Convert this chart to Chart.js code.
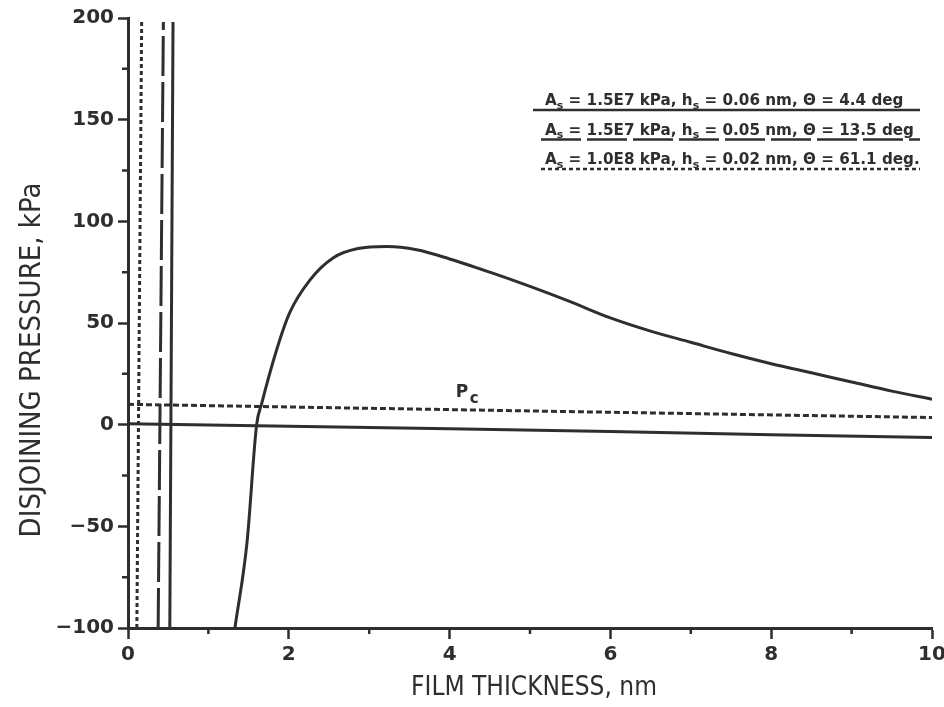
<!DOCTYPE html>
<html lang="en">
<head>
    <meta charset="UTF-8">
    <title>Disjoining pressure</title>
    <script src="https://cdn.jsdelivr.net/npm/chart.js"></script>
    <style>
        body { margin: 0; background: #fff; }
        #wrap { width: 944px; height: 707px; }
    </style>
</head>
<body>
    <div id="wrap"><canvas id="dpChart" width="944" height="707"></canvas></div>
    <script>
        // values
        const legendLabels = [
            'A_s = 1.5E7 kPa, h_s = 0.06 nm, Θ = 4.4 deg',
            'A_s = 1.5E7 kPa, h_s = 0.05 nm, Θ = 13.5 deg',
            'A_s = 1.0E8 kPa, h_s = 0.02 nm, Θ = 61.1 deg.'
        ];
        const wallPressure = [-100, 198];
        const solidWallX = [0.52, 0.56];
        const dashedWallX = [0.375, 0.44];
        const dottedWallX = [0.11, 0.17];

        const humpX = [1.33, 1.48, 1.60, 1.66, 1.85, 2.01, 2.26, 2.55, 2.86, 3.22, 3.59, 4.0, 4.5, 5.0, 5.5, 6.0, 6.5, 7.0, 7.5, 8.0, 8.5, 9.0, 9.5, 10];
        const humpY = [-100, -58, 0, 10, 37, 55, 71, 82, 86.6, 87.6, 86, 81.5, 75, 68, 60.5, 52.5, 46, 40.5, 35, 30, 25.5, 21, 16.5, 12.5];

        const tailX = [0, 2, 4, 6, 8, 10];
        const tailY = [0.5, -0.8, -2.0, -3.4, -4.9, -6.3];

        const pcX = [0, 10];
        const pcY = [10, 3.5];

        const minorTicksX = [1, 3, 5, 7, 9];
        const minorTicksY = [-75, -25, 25, 75, 125, 175];

        const ink = '#2e2e2e';
        const pts = (xs, ys) => xs.map((v, i) => ({ x: v, y: ys[i] }));

        function drawRich(ctx, str, x, yb, size) {
            str.split(/(_.)/).forEach(p => {
                if (!p) return;
                if (p[0] === '_') {
                    ctx.font = 'bold ' + Math.round(size * 0.7) + 'px "DejaVu Sans"';
                    ctx.fillText(p[1], x, yb + size * 0.25);
                    x += ctx.measureText(p[1]).width;
                } else {
                    ctx.font = 'bold ' + size + 'px "DejaVu Sans"';
                    ctx.fillText(p, x, yb);
                    x += ctx.measureText(p).width;
                }
            });
            return x;
        }

        const annotate = {
            id: 'annotate',
            afterDraw(chart) {
                const { ctx, chartArea: a, scales: { x, y } } = chart;
                ctx.save();
                ctx.strokeStyle = ink;
                ctx.fillStyle = ink;

                // minor ticks
                ctx.lineWidth = 2.5;
                ctx.beginPath();
                minorTicksX.forEach(v => { const p = x.getPixelForValue(v); ctx.moveTo(p, a.bottom); ctx.lineTo(p, a.bottom + 6); });
                minorTicksY.forEach(v => { const p = y.getPixelForValue(v); ctx.moveTo(a.left - 6, p); ctx.lineTo(a.left, p); });
                ctx.stroke();

                // axis titles
                const titleFamily = '"DejaVu Sans Condensed", "Liberation Sans Narrow", "DejaVu Sans"';
                ctx.textAlign = 'center';
                ctx.textBaseline = 'middle';
                ctx.font = '26px ' + titleFamily;
                ctx.fillText('FILM THICKNESS, nm', (a.left + a.right) / 2 + 4, 688);
                ctx.save();
                ctx.translate(32, 360);
                ctx.rotate(-Math.PI / 2);
                ctx.font = '29px ' + titleFamily;
                ctx.fillText('DISJOINING PRESSURE, kPa', 0, 0);
                ctx.restore();

                // legend rows, underlined in the line style of each curve
                ctx.textAlign = 'left';
                ctx.textBaseline = 'alphabetic';
                const rows = chart.data.datasets.filter(d => legendLabels.includes(d.label));
                rows.forEach((d, i) => {
                    const base = 105 + i * 29.5;
                    drawRich(ctx, d.label, 545, base, 15.2);
                    ctx.lineWidth = 2.5;
                    ctx.setLineDash(d.borderDash || []);
                    ctx.beginPath();
                    ctx.moveTo(i === 0 ? 533 : 541, base + 5);
                    ctx.lineTo(920, base + 5);
                    ctx.stroke();
                    ctx.setLineDash([]);
                });

                // capillary pressure label
                const px = x.getPixelForValue(4.15), py = y.getPixelForValue(13.5);
                ctx.font = 'bold 17px "DejaVu Sans"';
                ctx.fillText('P', px - 6, py);
                ctx.font = 'bold 15px "DejaVu Sans"';
                ctx.fillText('c', px + 8, py + 6);
                ctx.restore();
            }
        };

        const tickFont = { family: 'DejaVu Sans', size: 20, weight: 'bold' };

        new Chart(document.getElementById('dpChart'), {
            type: 'line',
            data: {
                datasets: [
                    { label: 'hump', data: pts(humpX, humpY), borderColor: ink, borderWidth: 3, cubicInterpolationMode: 'monotone' },
                    { label: legendLabels[0], data: pts(solidWallX, wallPressure), borderColor: ink, borderWidth: 3 },
                    { label: legendLabels[1], data: pts(dashedWallX, wallPressure), borderColor: ink, borderWidth: 3, borderDash: [40, 6] },
                    { label: legendLabels[2], data: pts(dottedWallX, wallPressure), borderColor: ink, borderWidth: 3, borderDash: [4, 3] },
                    { label: 'tail', data: pts(tailX, tailY), borderColor: ink, borderWidth: 3 },
                    { label: 'Pc', data: pts(pcX, pcY), borderColor: ink, borderWidth: 3, borderDash: [6, 3] }
                ]
            },
            options: {
                responsive: false,
                animation: false,
                layout: { padding: { top: 18, right: 12, left: 0, bottom: 0 } },
                elements: { point: { radius: 0 } },
                plugins: { legend: { display: false }, tooltip: { enabled: false } },
                scales: {
                    x: {
                        type: 'linear', min: 0, max: 10,
                        afterFit: s => { s.height = 79; s.paddingLeft = 0; s.paddingRight = 0; },
                        ticks: { stepSize: 2, color: ink, font: tickFont, padding: 4, maxRotation: 0 },
                        grid: { drawOnChartArea: false, tickLength: 11, tickWidth: 2.5, tickColor: ink },
                        border: { color: ink, width: 3 }
                    },
                    y: {
                        type: 'linear', min: -100, max: 200,
                        afterFit: s => { s.width = 128; s.paddingTop = 0; s.paddingBottom = 0; },
                        ticks: { stepSize: 50, color: ink, font: tickFont, padding: 4,
                            callback: v => String(v).replace('-', '\u2212') },
                        grid: { drawOnChartArea: false, tickLength: 10, tickWidth: 2.5, tickColor: ink },
                        border: { color: ink, width: 3 }
                    }
                }
            },
            plugins: [annotate]
        });
    </script>
</body>
</html>
